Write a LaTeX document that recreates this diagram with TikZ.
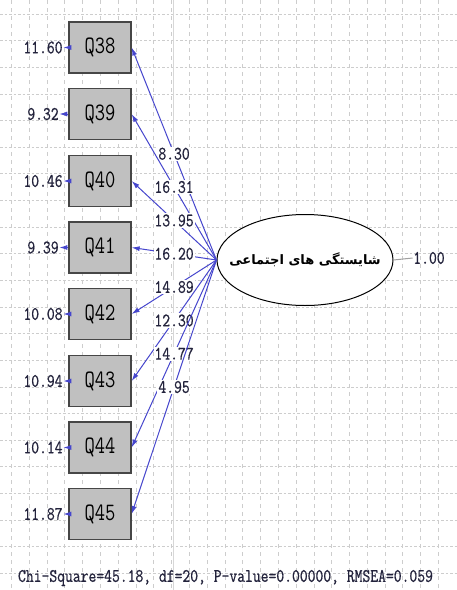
\documentclass[tikz,border=0pt]{standalone}
\usepackage{fontspec}
\usepackage{tikz}
\usetikzlibrary{positioning,arrows.meta,shapes.geometric}
\TeXXeTstate=1
\newfontfamily\arabicfont[Script=Arabic]{DejaVu Sans}
\newfontfamily\lisfont{Latin Modern Mono}[FakeStretch=0.8,FakeBold=0.6]
\newfontfamily\obsfont{Latin Modern Mono}[FakeStretch=0.8]
\definecolor{pathc}{RGB}{70,70,205}
\definecolor{obsfill}{RGB}{192,192,192}
\definecolor{obsline}{RGB}{70,70,70}
\definecolor{numtext}{RGB}{35,35,60}
\definecolor{gridc}{RGB}{205,205,205}
\definecolor{varline}{RGB}{160,160,160}

\begin{document}
\begin{tikzpicture}[
    x=1pt, y=-1pt,
    obs/.style={draw=obsline, fill=obsfill, line width=1.3pt, minimum width=62pt, minimum height=51pt, inner sep=0pt, font=\obsfont\fontsize{25}{25}\selectfont},
    numlab/.style={font=\lisfont\fontsize{19}{19}\selectfont, text=numtext, inner sep=0.5pt},
    loadlab/.style={numlab, fill=white, inner sep=1pt},
    arrow/.style={-{Latex[length=8pt,width=5pt]}, draw=pathc, line width=1pt},
    gridv/.style={draw=gridc, line width=0.6pt, dash pattern=on 4pt off 4pt},
    gridh/.style={draw=gridc, line width=0.6pt, dash pattern=on 2.5pt off 2pt}
]
    % Background and grid
    \fill[white] (0,0) rectangle (457,590);
    \useasboundingbox (0,0) rectangle (457,590);
    \foreach \k in {0,...,24} \draw[gridv] (11.4+17.79*\k,0) -- (11.4+17.79*\k,590);
    \foreach \k in {0,...,21} \draw[gridh] (0,14+26.63*\k) -- (457,14+26.63*\k);
    \draw[gridc!80, line width=0.6pt] (173,0) -- (173,590);

    % Observed variables
    \node[obs] (q38) at (100,47.5) {Q38};
    \node[obs] (q39) at (100,114) {Q39};
    \node[obs] (q40) at (100,181) {Q40};
    \node[obs] (q41) at (100,247.5) {Q41};
    \node[obs] (q42) at (100,314) {Q42};
    \node[obs] (q43) at (100,381) {Q43};
    \node[obs] (q44) at (100,447.5) {Q44};
    \node[obs] (q45) at (100,514) {Q45};

    % Error variances
    \node[numlab] (e38) at (43,47.5) {11.60};
    \node[numlab] (e39) at (43,114) {9.32};
    \node[numlab] (e40) at (43,181) {10.46};
    \node[numlab] (e41) at (43,247.5) {9.39};
    \node[numlab] (e42) at (43,314) {10.08};
    \node[numlab] (e43) at (43,381) {10.94};
    \node[numlab] (e44) at (43,447.5) {10.14};
    \node[numlab] (e45) at (43,514) {11.87};
    \draw[arrow] (q38) -- (e38);
    \draw[arrow] (q39) -- (e39);
    \draw[arrow] (q40) -- (e40);
    \draw[arrow] (q41) -- (e41);
    \draw[arrow] (q42) -- (e42);
    \draw[arrow] (q43) -- (e43);
    \draw[arrow] (q44) -- (e44);
    \draw[arrow] (q45) -- (e45);

    % Latent variable
    \node[draw, ellipse, fill=white, line width=1pt, minimum width=176pt, minimum height=91pt, inner sep=0pt] (latent) at (305,260) {};
    \node[font=\arabicfont\bfseries\fontsize{13}{13}\selectfont] (lattext) at (latent) {\beginR شایستگی های اجتماعی\endR};
    \node[numlab] (var) at (429,258) {1.00};
    \draw[varline, line width=1pt] (latent.east) -- (var.west);

    % Loadings
    \draw[arrow] (latent.west) -- node[loadlab]{8.30} (q38.east);
    \draw[arrow] (latent.west) -- node[loadlab]{16.31} (q39.east);
    \draw[arrow] (latent.west) -- node[loadlab]{13.95} (q40.east);
    \draw[arrow] (latent.west) -- node[loadlab]{16.20} (q41.east);
    \draw[arrow] (latent.west) -- node[loadlab]{14.89} (q42.east);
    \draw[arrow] (latent.west) -- node[loadlab]{12.30} (q43.east);
    \draw[arrow] (latent.west) -- node[loadlab]{14.77} (q44.east);
    \draw[arrow] (latent.west) -- node[loadlab]{4.95} (q45.east);

    % Fit statistics
    \node[numlab] (fit) at (225.5,578) {Chi-Square=45.18, df=20, P-value=0.00000, RMSEA=0.059};
\end{tikzpicture}
\end{document}
